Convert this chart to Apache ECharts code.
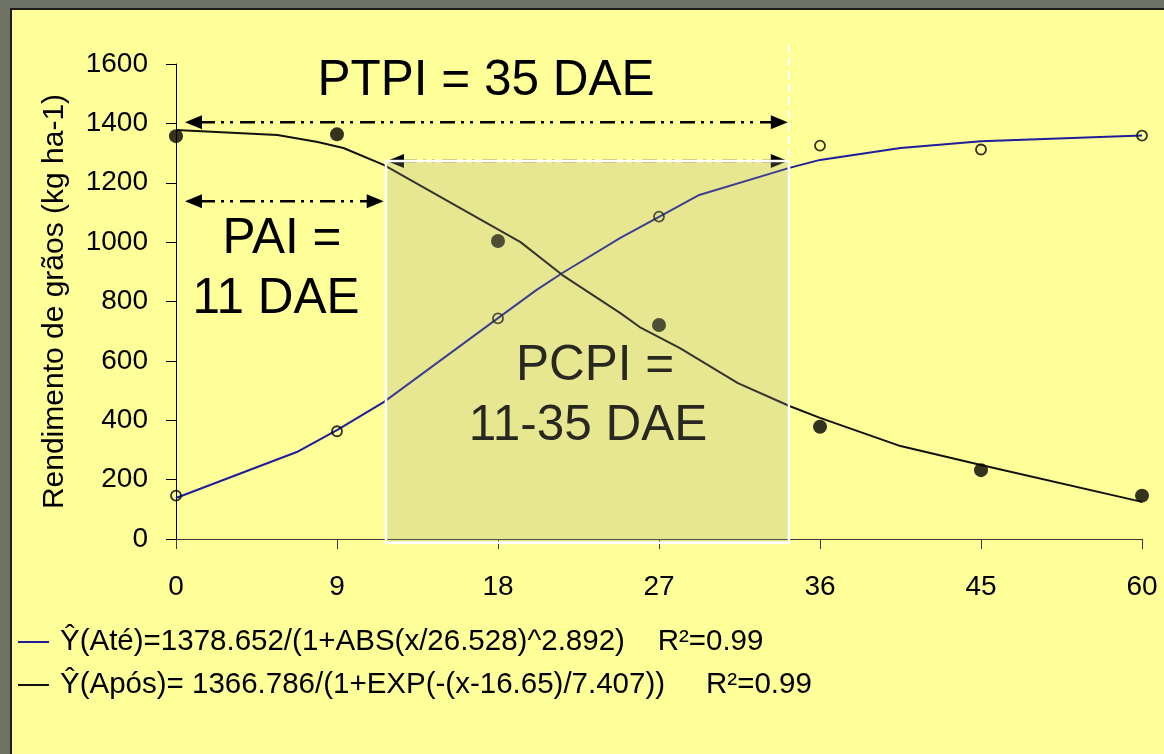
<!DOCTYPE html>
<html><head><meta charset="utf-8">
<script src="https://cdn.jsdelivr.net/npm/echarts@6/dist/echarts.min.js"></script>
<style>
html,body{margin:0;padding:0;width:1164px;height:754px;overflow:hidden;background:#6d7264;}
#panel{position:absolute;left:10px;top:8px;width:1170px;height:770px;background:#ffff99;border-left:2px solid #1b1b17;border-top:2px solid #1b1b17;}
#chart{position:absolute;left:0;top:0;width:1164px;height:754px;}
</style></head><body>
<div id="panel"></div><div id="chart"></div>
<script>
// ---- data ----
const dayLabels = ['0', '9', '18', '27', '36', '45', '60'];
const obsAte  = [146, 363, 743, 1086, 1325, 1312, 1359];   // open circles
const obsApos = [1357, 1363, 1004, 721, 378, 232, 146];    // filled circles
// fitted curves (x in category-index units)
const curveAteX = [0, 0.75, 1.0, 1.29, 2.0, 2.24, 2.40, 2.76, 3.0, 3.25, 3.81, 4.0, 4.5, 5.0, 6.0];
const curveAteY = [138, 293, 367, 461, 744, 839, 896, 1014, 1085, 1159, 1250, 1277, 1317, 1340, 1359];
const curveAposX = [0, 0.63, 0.88, 1.04, 1.29, 2.14, 2.40, 2.76, 2.88, 3.13, 3.49, 3.81, 4.0, 4.5, 5.0, 6.0];
const curveAposY = [1378, 1361, 1337, 1317, 1260, 1000, 889, 761, 714, 643, 525, 448, 408, 313, 249, 125];
const yTicks = {min: 0, max: 1600, interval: 200};
const nameAte  = 'Ŷ(Até)=1378.652/(1+ABS(x/26.528)^2.892)    R²=0.99';
const nameApos = 'Ŷ(Após)= 1366.786/(1+EXP(-(x-16.65)/7.407))     R²=0.99';
const yName = 'Rendimento de grãos (kg ha-1)';

const FONT = '"Liberation Sans", Arial, sans-serif';
const BIG = 49.5;
const zip = (xs, ys) => xs.map((x, i) => [x, ys[i]]);

const chart = echarts.init(document.getElementById('chart'), null, {renderer: 'canvas'});
const option = {
  animation: false,
  backgroundColor: 'transparent',
  grid: {left: 176, right: 22, top: 64, bottom: 215, containLabel: false},
  legend: {
    orient: 'vertical', left: 18, top: 627, padding: 0,
    icon: 'rect', itemWidth: 31, itemHeight: 2, itemGap: 13,
    data: [nameAte, nameApos],
    textStyle: {fontSize: 29.5, color: '#000', fontFamily: FONT, padding: [0, 0, 0, 6]}
  },
  xAxis: {
    type: 'value', min: 0, max: dayLabels.length - 1, interval: 1,
    axisLine: {show: true, onZero: false, lineStyle: {color: '#3a3a30', width: 1}},
    axisTick: {show: true, inside: false, length: 10, lineStyle: {color: '#3a3a30'}},
    axisLabel: {fontSize: 28, color: '#000', fontFamily: FONT, margin: 34,
      formatter: v => dayLabels[v] !== undefined ? dayLabels[v] : ''},
    splitLine: {show: false}
  },
  yAxis: {
    type: 'value', min: yTicks.min, max: yTicks.max, interval: yTicks.interval,
    name: yName, nameLocation: 'middle', nameGap: 106, nameRotate: 90,
    nameTextStyle: {fontSize: 30, color: '#000', fontFamily: FONT},
    axisLine: {show: true, lineStyle: {color: '#000', width: 1}},
    axisTick: {show: true, inside: false, length: 10, lineStyle: {color: '#000'}},
    axisLabel: {fontSize: 28, color: '#000', fontFamily: FONT, margin: 28, formatter: v => String(v)},
    splitLine: {show: false}
  },
  series: [
    {name: nameAte, type: 'line', data: zip(curveAteX, curveAteY), showSymbol: false, symbol: 'none',
     color: '#1e1e9a', lineStyle: {color: '#1e1e9a', width: 2}, z: 2},
    {name: nameApos, type: 'line', data: zip(curveAposX, curveAposY), showSymbol: false, symbol: 'none',
     color: '#111', lineStyle: {color: '#111', width: 2}, z: 2},
    {name: 'Até (observado)', type: 'scatter', data: obsAte.map((v, i) => [i, v]), symbol: 'circle', symbolSize: 10,
     itemStyle: {color: 'rgba(0,0,0,0)', borderColor: '#000', borderWidth: 1.8}, z: 3},
    {name: 'Após (observado)', type: 'scatter', data: obsApos.map((v, i) => [i, v]), symbol: 'circle', symbolSize: 14,
     itemStyle: {color: '#000'}, z: 3}
  ]
};
chart.setOption(option);

// ---- annotations (in axis units) ----
const box = {x0: 1.304, x1: 3.807, y0: -13, y1: 1273};
const arrowDefs = [
  {x0: 0.056, x1: 3.80, y: 1404, z: 20},
  {x0: 0.056, x1: 1.29, y: 1138, z: 20},
  {x0: 1.31, x1: 3.80, y: 1273, z: 9}
];
const P = (x, y) => chart.convertToPixel({gridIndex: 0}, [x, y]);
const g = [];
const pa = P(box.x0, box.y1), pb = P(box.x1, box.y0);
// arrows
arrowDefs.forEach(a => {
  const l = P(a.x0, a.y), r = P(a.x1, a.y);
  const L = 17, H = 7;
  g.push({type: 'line', z: a.z, shape: {x1: l[0] + L - 2, y1: l[1], x2: r[0] - L + 2, y2: r[1]},
    style: {stroke: '#000', lineWidth: 2.5, lineDash: [15, 6, 3, 6, 3, 7]}});
  g.push({type: 'polygon', z: a.z, shape: {points: [[l[0], l[1]], [l[0] + L, l[1] - H], [l[0] + L, l[1] + H]]}, style: {fill: '#000'}});
  g.push({type: 'polygon', z: a.z, shape: {points: [[r[0], r[1]], [r[0] - L, r[1] - H], [r[0] - L, r[1] + H]]}, style: {fill: '#000'}});
});
// PCPI text (below overlay)
g.push({type: 'text', z: 5, x: 595, y: 366, style: {text: 'PCPI =', fontSize: BIG, fontFamily: FONT, fill: '#000', align: 'center', verticalAlign: 'middle'}});
g.push({type: 'text', z: 5, x: 588, y: 426, style: {text: '11-35 DAE', fontSize: BIG, fontFamily: FONT, fill: '#000', align: 'center', verticalAlign: 'middle'}});
// overlay
g.push({type: 'rect', z: 10, shape: {x: pa[0], y: pa[1], width: pb[0] - pa[0], height: pb[1] - pa[1]},
  style: {fill: 'rgba(160,160,128,0.25)', stroke: '#ffffff', lineWidth: 2.5}});
// white dashed vertical line above the box
g.push({type: 'line', z: 11, shape: {x1: pb[0], y1: 45, x2: pb[0], y2: pa[1]},
  style: {stroke: '#ffffff', lineWidth: 2, lineDash: [8, 5]}});
// big labels
g.push({type: 'text', z: 21, x: 486, y: 81, style: {text: 'PTPI = 35 DAE', fontSize: BIG, fontFamily: FONT, fill: '#000', align: 'center', verticalAlign: 'middle'}});
g.push({type: 'text', z: 21, x: 282, y: 239, style: {text: 'PAI =', fontSize: BIG, fontFamily: FONT, fill: '#000', align: 'center', verticalAlign: 'middle'}});
g.push({type: 'text', z: 21, x: 276, y: 299, style: {text: '11 DAE', fontSize: BIG, fontFamily: FONT, fill: '#000', align: 'center', verticalAlign: 'middle'}});
chart.setOption({graphic: {elements: g}});
</script>
</body></html>
